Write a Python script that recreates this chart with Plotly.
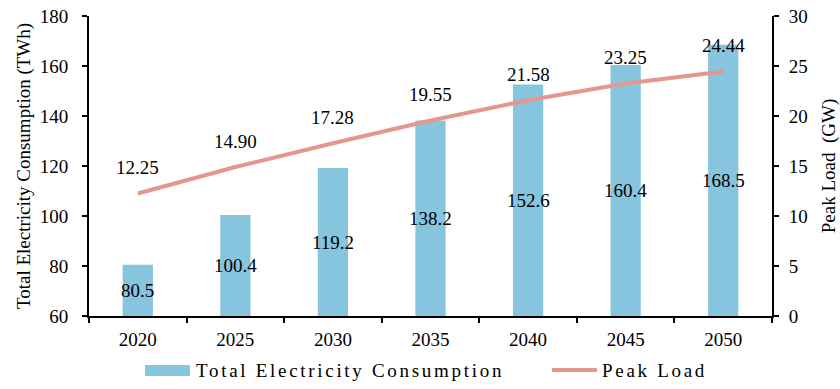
import plotly.graph_objects as go

# Electricity outlook, 2020-2050
years = ["2020", "2025", "2030", "2035", "2040", "2045", "2050"]
consumption_twh = [80.5, 100.4, 119.2, 138.2, 152.6, 160.4, 168.5]
peak_load_gw = [12.25, 14.90, 17.28, 19.55, 21.58, 23.25, 24.44]

left_ticks = [60, 80, 100, 120, 140, 160, 180]
right_ticks = [0, 5, 10, 15, 20, 25, 30]

BAR_COLOR = "#87C4DE"
LINE_COLOR = "#E3978E"
FONT = "Liberation Serif, Times New Roman, serif"
FS = 19
Y_MIN, Y_MAX = 60, 180

fig = go.Figure()

fig.add_trace(go.Bar(
    x=years, y=consumption_twh, name="Total Electricity Consumption",
    marker=dict(color=BAR_COLOR, line=dict(width=0)), width=0.31,
    showlegend=False, hoverinfo="x+y",
))

fig.add_trace(go.Scatter(
    x=years, y=peak_load_gw, name="Peak Load", yaxis="y2", mode="lines",
    line=dict(color=LINE_COLOR, width=4), showlegend=False,
))

annotations = []
# consumption values centred in the visible part of each bar
# (x given as category index so the axis stays categorical)
for i, v in enumerate(consumption_twh):
    annotations.append(dict(
        x=i, y=(Y_MIN + v) / 2, xref="x", yref="y", text=f"{v:.1f}",
        showarrow=False, font=dict(family=FONT, size=FS, color="black"),
    ))
# peak load values above the line
for i, v in enumerate(peak_load_gw):
    annotations.append(dict(
        x=i, y=v, xref="x", yref="y2", text=f"{v:.2f}", yshift=26,
        showarrow=False, font=dict(family=FONT, size=FS, color="black"),
    ))

W, H = 840, 389
ML, MR, MT, MB = 89, 68, 16, 73
pw, ph = W - ML - MR, H - MT - MB


def px_x(x):
    return (x - ML) / pw


def px_y(y):
    return (H - MB - y) / ph


# legend below the axis
legend_font = dict(family=FONT, size=FS, color="black")
annotations.append(dict(
    x=px_x(194), y=px_y(370), xref="paper", yref="paper", showarrow=False,
    text='<span style="letter-spacing:2.7px">Total Electricity Consumption</span>',
    xanchor="left", yanchor="middle", font=legend_font,
))
annotations.append(dict(
    x=px_x(600), y=px_y(370), xref="paper", yref="paper", showarrow=False,
    text='<span style="letter-spacing:2.7px">Peak Load</span>',
    xanchor="left", yanchor="middle", font=legend_font,
))

shapes = [
    dict(type="rect", xref="paper", yref="paper",
         x0=px_x(145), x1=px_x(190), y0=px_y(376), y1=px_y(365),
         fillcolor=BAR_COLOR, line=dict(width=0)),
    dict(type="line", xref="paper", yref="paper",
         x0=px_x(552), x1=px_x(597), y0=px_y(370), y1=px_y(370),
         line=dict(color=LINE_COLOR, width=4)),
]

fig.update_layout(
    width=W, height=H,
    margin=dict(l=ML, r=MR, t=MT, b=MB, autoexpand=False),
    paper_bgcolor="white", plot_bgcolor="white",
    font=dict(family=FONT, size=FS, color="black"),
    showlegend=False,
    annotations=annotations,
    shapes=shapes,
    xaxis=dict(
        type="category", range=[-0.5, len(years) - 0.5], automargin=False,
        showline=True, linecolor="black", linewidth=2,
        ticks="outside", tickson="boundaries", ticklen=5, tickwidth=2,
        tickcolor="black", showgrid=False, zeroline=False,
        tickfont=dict(family=FONT, size=FS), ticklabelstandoff=5,
        tickangle=0,
    ),
    yaxis=dict(
        range=[Y_MIN, Y_MAX], tickvals=left_ticks, showline=True,
        automargin=False,
        linecolor="black", linewidth=2, ticks="outside", ticklen=5,
        tickwidth=2, tickcolor="black", showgrid=False, zeroline=False,
        tickfont=dict(family=FONT, size=FS), ticklabelstandoff=10,
        title=dict(text="Total Electricity Consumption (TWh)",
                   font=dict(family=FONT, size=FS), standoff=4),
    ),
    yaxis2=dict(
        range=[0, 30], tickvals=right_ticks, overlaying="y", side="right",
        automargin=False,
        showline=True, linecolor="black", linewidth=2, ticks="outside",
        ticklen=5, tickwidth=2, tickcolor="black", showgrid=False,
        zeroline=False, tickfont=dict(family=FONT, size=FS),
        ticklabelstandoff=6,
        title=dict(text="Peak Load\u00a0 (GW)",
                   font=dict(family=FONT, size=FS), standoff=18),
    ),
)

fig.write_html("out.html")
